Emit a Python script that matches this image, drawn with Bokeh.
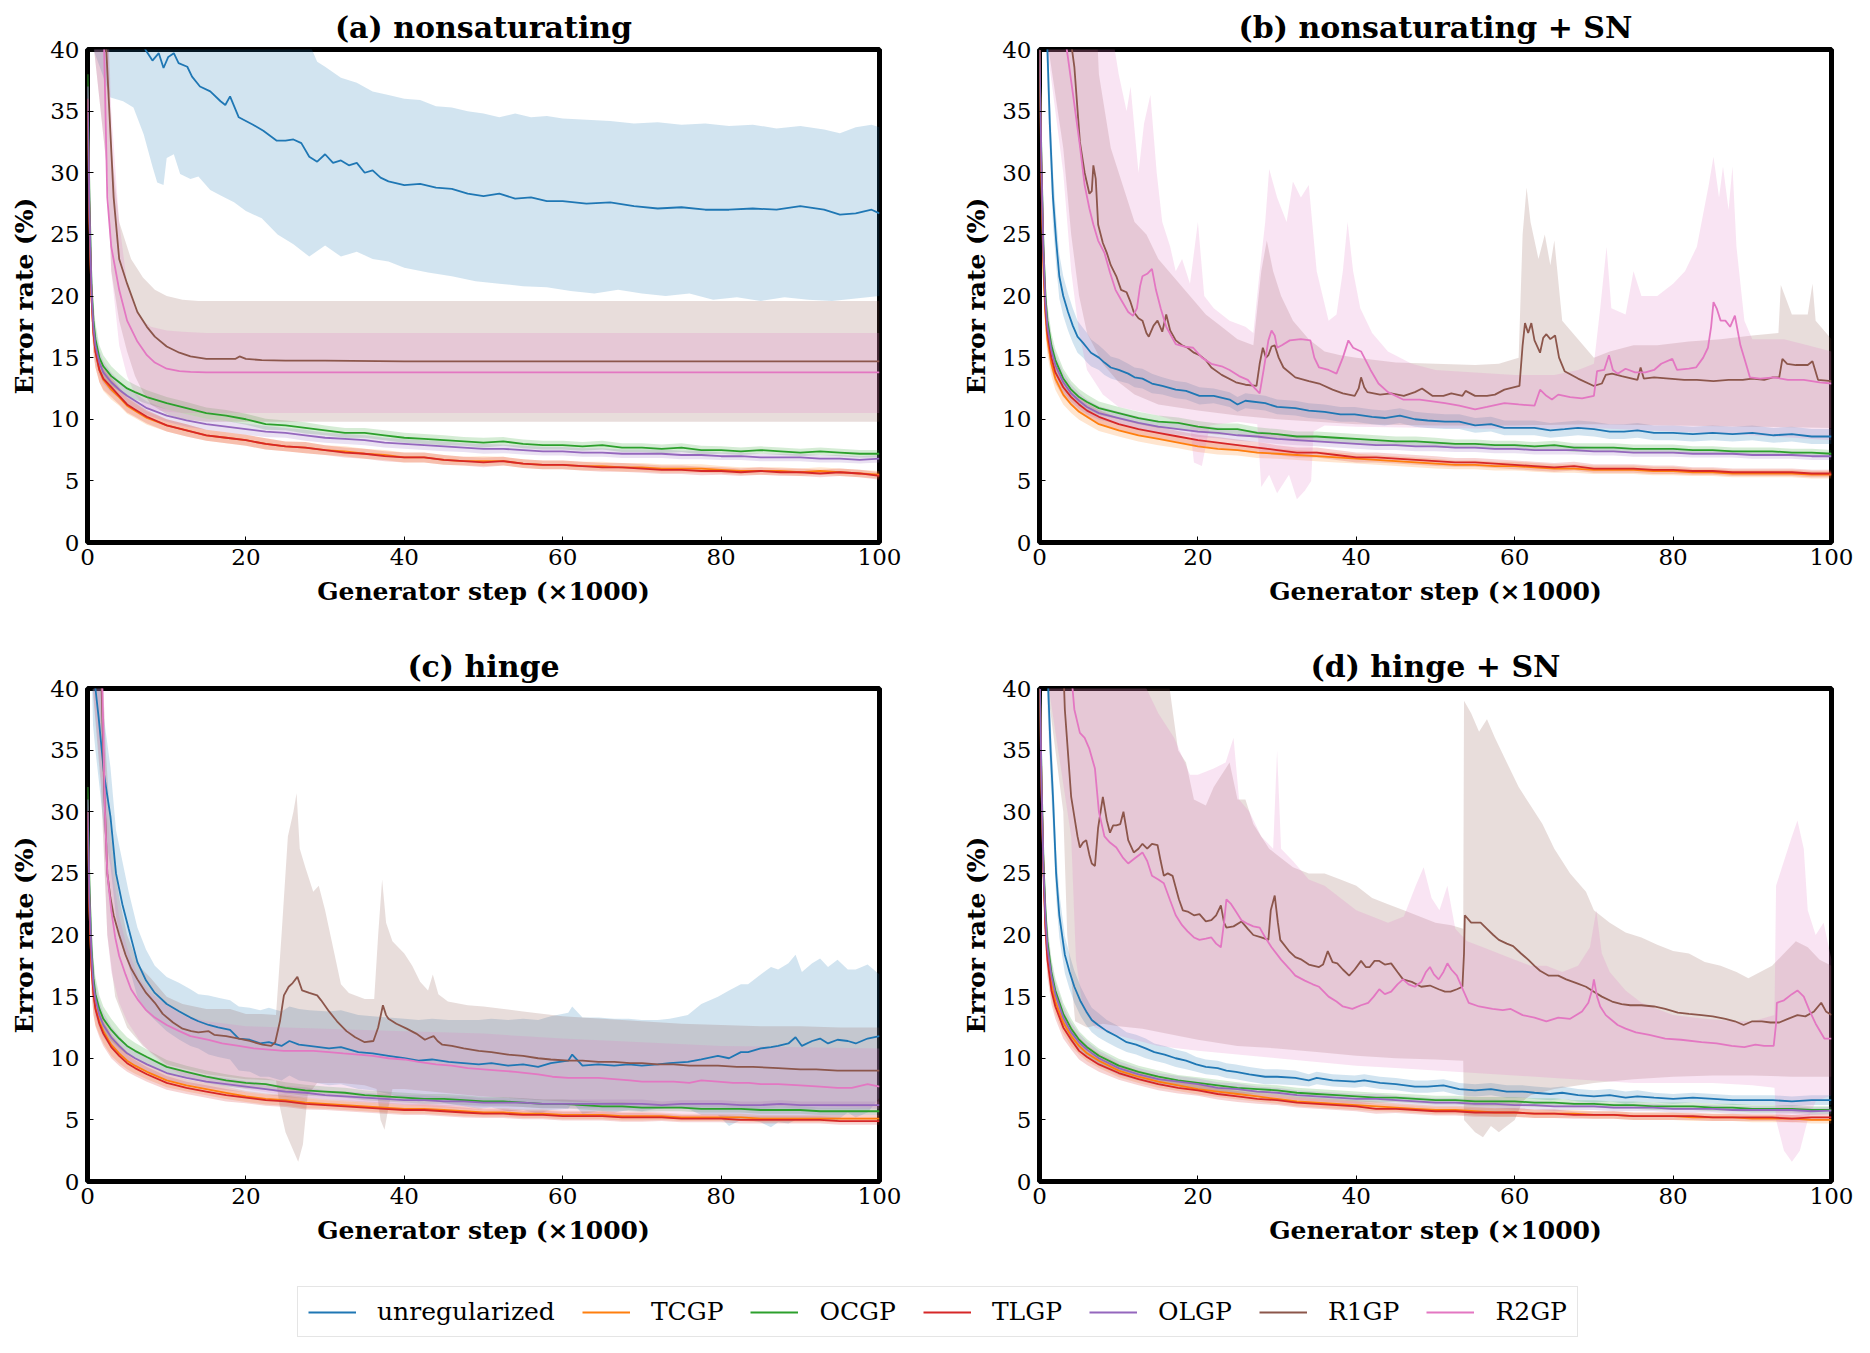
from bokeh.plotting import figure
from bokeh.layouts import column, row
from bokeh.models import Legend, LegendItem, FixedTicker, Range1d
from bokeh.embed import file_html
from bokeh.resources import INLINE

SERIF = "DejaVu Serif"
SERIES = ["unregularized", "TCGP", "OCGP", "TLGP", "OLGP", "R1GP", "R2GP"]
COLORS = {"unregularized": "#1f77b4", "TCGP": "#ff7f0e", "OCGP": "#2ca02c",
          "TLGP": "#d62728", "OLGP": "#9467bd", "R1GP": "#8c564b", "R2GP": "#e377c2"}

# generator steps (x1000) at which the gradient-penalty runs are sampled
GRID = [0, 0.25, 0.5, 0.75, 1, 1.5, 2, 3, 4, 5, 6, 7.5,
        10, 12.5, 15, 17.5, 20, 22.5, 25, 27.5, 30, 32.5,
        35, 37.5, 40, 42.5, 45, 47.5, 50, 52.5, 55, 57.5,
        60, 62.5, 65, 67.5, 70, 72.5, 75, 77.5, 80, 82.5,
        85, 87.5, 90, 92.5, 95, 97.5, 100]

# ---------------- (a) nonsaturating ----------------
a_unreg = [(0, 60), (4, 46), (6, 42), (7.3, 40), (8.2, 39.1), (9.0, 39.7), (9.6, 38.5), (10.2, 39.4),
           (10.9, 39.7), (11.5, 38.9), (12.6, 38.6), (13.2, 37.8), (14.2, 37.0), (15.5, 36.6), (16.8, 35.8),
           (17.4, 35.5), (18.0, 36.2), (19.1, 34.5), (20.9, 33.9), (22.2, 33.4), (23.9, 32.6), (25, 32.6),
           (26, 32.7), (27, 32.4), (28, 31.3), (29, 30.9), (30, 31.5), (31, 30.8), (32, 31.0), (33, 30.6),
           (34, 30.8), (35, 30.0), (36, 30.2), (37, 29.6), (38, 29.3), (40, 29.0), (42, 29.1), (44, 28.8),
           (46, 28.7), (48, 28.3), (50, 28.1), (52, 28.3), (54, 27.9), (56, 28.0), (58, 27.7), (60, 27.7),
           (63, 27.5), (66, 27.6), (69, 27.3), (72, 27.1), (75, 27.2), (78, 27.0), (81, 27.0), (84, 27.1),
           (87, 27.0), (90, 27.3), (93, 27.0), (95, 26.6), (97, 26.7), (99, 27.0), (100, 26.7)]
a_unreg_hi = [(0, 45), (28, 40.5), (29, 39), (30, 38.6), (32, 37.7), (34, 37.3), (36, 36.6), (38, 36.3),
              (40, 36.0), (42, 35.9), (44, 35.4), (46, 35.3), (48, 35.0), (50, 34.8), (52, 34.5), (54, 34.8),
              (56, 34.5), (58, 34.6), (60, 34.4), (63, 34.3), (66, 34.2), (69, 34.0), (72, 34.1), (75, 33.9),
              (78, 34.0), (81, 33.8), (84, 33.9), (87, 33.6), (90, 33.8), (93, 33.5), (95, 33.2), (97, 33.7),
              (99, 33.9), (100, 33.7)]
a_unreg_lo = [(0, 42), (0.75, 40), (1.6, 38.5), (2.9, 36.1), (4.5, 35.8), (5.8, 35.3), (7.1, 33.1), (8.2, 30.5),
              (8.8, 29.2), (9.6, 29.0), (10.0, 31.2), (10.9, 31.5), (11.7, 29.9), (13, 29.5), (14, 29.7),
              (15.5, 28.6), (17, 28.1), (18.5, 27.6), (20, 26.9), (22, 26.3), (24, 25.0), (26, 24.2), (28, 23.2),
              (30, 24.1), (32, 23.2), (34, 23.6), (36, 23.0), (38, 22.8), (40, 22.3), (43, 21.9), (46, 21.6),
              (49, 21.2), (52, 21.0), (55, 20.8), (58, 20.7), (61, 20.4), (64, 20.2), (67, 20.5), (70, 20.2),
              (73, 20.0), (76, 20.2), (79, 19.7), (82, 19.9), (85, 19.6), (88, 19.9), (91, 19.7), (94, 19.6),
              (97, 19.8), (100, 20.0)]
a_tcgp = [36, 26, 20, 17, 15.5, 14, 13.2, 12.4, 11.8, 11.1, 10.7, 10.1,
          9.5, 9.1, 8.7, 8.5, 8.3, 8.0, 7.8, 7.7, 7.5, 7.4,
          7.2, 7.1, 6.9, 6.9, 6.7, 6.6, 6.6, 6.6, 6.4, 6.3,
          6.3, 6.2, 6.2, 6.1, 6.1, 6.0, 6.0, 6.0, 5.9, 5.8,
          5.8, 5.8, 5.7, 5.8, 5.7, 5.6, 5.5]
a_ocgp = [38, 28, 21, 18, 16.5, 15, 14.3, 13.5, 13.0, 12.5, 12.2, 11.8,
          11.3, 10.9, 10.5, 10.3, 10.0, 9.6, 9.5, 9.3, 9.1, 8.9,
          8.9, 8.7, 8.5, 8.4, 8.3, 8.2, 8.1, 8.2, 8.0, 7.9,
          7.9, 7.8, 7.9, 7.7, 7.7, 7.6, 7.7, 7.5, 7.5, 7.4,
          7.5, 7.4, 7.3, 7.4, 7.3, 7.2, 7.2]
a_tlgp = [36, 26, 20, 17, 15.5, 14, 13.3, 12.6, 11.9, 11.2, 10.8, 10.2,
          9.5, 9.1, 8.7, 8.5, 8.3, 8.0, 7.8, 7.7, 7.5, 7.3,
          7.2, 7.0, 6.9, 6.9, 6.7, 6.6, 6.5, 6.6, 6.4, 6.3,
          6.3, 6.2, 6.1, 6.1, 6.0, 5.9, 5.9, 5.8, 5.8, 5.7,
          5.8, 5.7, 5.7, 5.6, 5.7, 5.6, 5.4]
a_olgp = [37, 27, 20.5, 17.5, 16, 14.6, 13.8, 13.0, 12.4, 11.9, 11.5, 10.9,
          10.3, 9.9, 9.6, 9.4, 9.2, 9.0, 8.9, 8.7, 8.5, 8.4,
          8.3, 8.1, 8.0, 7.9, 7.8, 7.7, 7.6, 7.6, 7.5, 7.4,
          7.4, 7.3, 7.3, 7.2, 7.2, 7.2, 7.1, 7.1, 7.0, 7.0,
          6.9, 6.9, 6.9, 6.8, 6.8, 6.7, 6.8]
a_spread = [3.0, 2.5, 2.0, 1.6, 1.3, 1.0, 0.9, 0.8, 0.7, 0.65, 0.6, 0.55,
            0.5, 0.5, 0.45, 0.45, 0.45, 0.45, 0.4, 0.45, 0.4, 0.4,
            0.4, 0.4, 0.4, 0.4, 0.4, 0.35, 0.4, 0.35, 0.35, 0.35,
            0.35, 0.35, 0.35, 0.35, 0.35, 0.35, 0.35, 0.35, 0.3, 0.3,
            0.3, 0.3, 0.3, 0.3, 0.3, 0.3, 0.3]
a_r1 = [(0, 70), (2.2, 70), (2.37, 40), (3.3, 28), (4.0, 23), (5.0, 21), (6.3, 18.7), (7.5, 17.5), (8.5, 16.7),
        (10, 15.9), (11.6, 15.4), (13, 15.1), (15, 14.9), (17, 14.9), (18.7, 14.9), (19.2, 15.1), (20, 14.9),
        (22, 14.8), (25, 14.75), (30, 14.75), (40, 14.7), (50, 14.7), (60, 14.7), (70, 14.7), (80, 14.7),
        (90, 14.7), (100, 14.7)]
a_r1_hi = [(0, 45), (2.5, 45), (3, 32), (4, 26), (5.5, 23), (7, 21.5), (8.5, 20.5), (10, 20.0), (12, 19.7),
           (14, 19.6), (20, 19.6), (40, 19.6), (60, 19.6), (80, 19.6), (100, 19.6)]
a_r1_lo = [(0, 45), (2.5, 30), (3, 22), (4, 18), (5, 15.5), (6, 13.5), (7, 12.2), (8, 11.2), (10, 10.4),
           (12, 10.0), (15, 9.8), (20, 9.8), (40, 9.8), (60, 9.8), (80, 9.8), (100, 9.8)]
a_r2 = [(0, 70), (1.95, 70), (2.1, 40), (2.5, 28), (3.0, 24), (4.0, 20.5), (5.0, 18), (6.3, 16.3), (7.5, 15.2),
        (8.5, 14.6), (10, 14.1), (11.6, 13.9), (13, 13.85), (15, 13.8), (20, 13.8), (40, 13.8), (60, 13.8),
        (80, 13.8), (100, 13.8)]
a_r2_hi = [(0, 45), (2.5, 45), (3, 35), (4, 26), (5, 21), (6, 19), (7, 18), (8, 17.5), (10, 17.2), (12, 17.1),
           (15, 17.0), (100, 17.0)]
a_r2_lo = [(0, 45), (2.5, 30), (3, 22), (4, 16), (5, 13.5), (6, 12), (7, 11.2), (8, 10.8), (10, 10.6),
           (12, 10.5), (100, 10.5)]

# ---------------- (b) nonsaturating + SN ----------------
b_unreg = [(0, 60, 3), (0.5, 50, 3), (1.0, 40, 3), (1.3, 34, 2.5), (1.7, 28, 2.2), (2.1, 24.5, 2), (2.5, 21.6, 1.8),
           (3.0, 20, 1.6), (3.6, 18.7, 1.5), (4.2, 17.6, 1.4), (4.8, 16.7, 1.3), (5.5, 16.2, 1.2), (6.0, 15.8, 1.2),
           (6.5, 15.4, 1.1), (7.5, 15.0, 1.0), (8.2, 14.6, 1.0), (9, 14.2, 0.9), (10, 14.0, 0.9), (11.2, 13.7, 0.8),
           (12, 13.4, 0.8), (13, 13.3, 0.8), (14.2, 12.9, 0.8), (15.5, 12.7, 0.7), (17.2, 12.4, 0.7),
           (18.5, 12.3, 0.7), (20.2, 11.9, 0.7), (22, 11.9, 0.6), (24, 11.6, 0.6), (25, 11.2, 0.6), (26, 11.5, 0.6),
           (28.5, 11.3, 0.6), (30, 11.0, 0.6), (32.3, 10.9, 0.6), (34, 10.7, 0.6), (36, 10.6, 0.6), (38, 10.4, 0.6),
           (39.8, 10.4, 0.6), (42, 10.2, 0.6), (43.6, 10.1, 0.6), (45.5, 10.3, 0.6), (47.4, 10.0, 0.6),
           (49, 9.9, 0.6), (51.2, 9.8, 0.6), (53, 9.8, 0.6), (55, 9.5, 0.6), (57, 9.6, 0.6), (58.7, 9.3, 0.6),
           (60.5, 9.3, 0.6), (62.5, 9.3, 0.6), (64.5, 9.1, 0.6), (66.3, 9.2, 0.6), (68, 9.3, 0.6), (70, 9.2, 0.6),
           (72, 9.0, 0.6), (73.8, 9.0, 0.6), (75.5, 9.1, 0.6), (77.6, 8.9, 0.6), (80, 8.9, 0.6), (82.5, 8.8, 0.6),
           (85, 8.9, 0.6), (87.5, 8.8, 0.6), (90, 8.9, 0.6), (92.7, 8.7, 0.6), (95, 8.8, 0.6), (97.5, 8.6, 0.6),
           (100, 8.6, 0.6)]
b_tcgp = [40, 29, 22, 18.5, 16.5, 14.5, 13.3, 12.0, 11.2, 10.6, 10.2, 9.6,
          9.1, 8.7, 8.4, 8.1, 7.8, 7.6, 7.5, 7.3, 7.2, 7.1,
          7.0, 6.9, 6.8, 6.7, 6.6, 6.5, 6.4, 6.3, 6.3, 6.2,
          6.2, 6.1, 6.0, 6.0, 5.9, 5.9, 5.9, 5.8, 5.8, 5.7,
          5.7, 5.6, 5.6, 5.6, 5.6, 5.5, 5.5]
b_ocgp = [40, 31, 24, 20, 18, 16, 14.8, 13.3, 12.4, 11.8, 11.4, 10.9,
          10.5, 10.1, 9.8, 9.7, 9.4, 9.2, 9.2, 8.9, 8.8, 8.6,
          8.6, 8.5, 8.4, 8.3, 8.2, 8.2, 8.1, 8.0, 8.0, 7.9,
          7.9, 7.8, 7.9, 7.7, 7.7, 7.7, 7.6, 7.6, 7.6, 7.5,
          7.5, 7.4, 7.4, 7.4, 7.3, 7.3, 7.2]
b_tlgp = [40, 30, 23, 19, 17, 15, 13.8, 12.6, 11.8, 11.2, 10.7, 10.2,
          9.6, 9.2, 8.9, 8.6, 8.3, 8.1, 7.9, 7.7, 7.5, 7.3,
          7.3, 7.1, 6.9, 6.9, 6.8, 6.7, 6.6, 6.5, 6.5, 6.4,
          6.3, 6.2, 6.1, 6.2, 6.0, 6.0, 6.0, 5.9, 5.9, 5.8,
          5.8, 5.7, 5.7, 5.7, 5.7, 5.6, 5.6]
b_olgp = [40, 30.5, 23.5, 19.5, 17.5, 15.6, 14.4, 13.0, 12.1, 11.5, 11.0, 10.5,
          10.1, 9.7, 9.4, 9.2, 9.0, 8.9, 8.7, 8.6, 8.4, 8.3,
          8.2, 8.1, 8.0, 7.9, 7.9, 7.8, 7.8, 7.7, 7.7, 7.6,
          7.6, 7.5, 7.5, 7.5, 7.4, 7.4, 7.3, 7.3, 7.3, 7.2,
          7.2, 7.2, 7.1, 7.1, 7.1, 7.0, 7.0]
b_spread = [3.0, 2.5, 2.0, 1.6, 1.3, 1.0, 0.9, 0.8, 0.7, 0.65, 0.6, 0.55,
            0.5, 0.5, 0.5, 0.45, 0.45, 0.45, 0.45, 0.45, 0.4, 0.4,
            0.4, 0.4, 0.4, 0.4, 0.4, 0.4, 0.4, 0.35, 0.35, 0.35,
            0.35, 0.35, 0.35, 0.35, 0.35, 0.35, 0.35, 0.35, 0.35, 0.3,
            0.3, 0.3, 0.3, 0.3, 0.3, 0.3, 0.3]
b_r1 = [(0, 60), (3.5, 45), (4.0, 40.5), (4.4, 38.6), (5.1, 32.5), (5.7, 30.0), (6.3, 28.3), (6.6, 28.5),
        (6.8, 30.6), (7.1, 29.5), (7.4, 25.8), (8.0, 24.3), (8.5, 23.5), (9.0, 22.5), (9.7, 21.6), (10.3, 20.5),
        (11.0, 20.3), (11.5, 19.5), (11.9, 18.7), (12.5, 18.2), (13.0, 18.0), (13.5, 17.0), (13.8, 16.7),
        (14.4, 17.6), (14.9, 18.0), (15.5, 17.1), (16.0, 18.5), (16.5, 17.2), (17.2, 16.4), (18.0, 16.0),
        (18.7, 15.8), (19.5, 15.4), (20.2, 15.2), (21, 14.8), (21.7, 14.2), (23, 13.6), (24.8, 13.0),
        (26, 12.8), (27.4, 12.7), (27.8, 14.5), (28.2, 15.8), (28.6, 15.0), (28.9, 15.2), (29.3, 15.9),
        (29.7, 16.0), (30.2, 15.0), (30.8, 14.2), (32.3, 13.4), (34, 13.1), (35.3, 12.9), (37, 12.4),
        (38.3, 12.1), (39.8, 11.9), (40.3, 12.5), (40.6, 13.4), (41.0, 12.6), (41.4, 12.2), (43, 12.0),
        (44.4, 12.1), (46, 11.9), (47.4, 12.2), (48.3, 12.5), (49.6, 11.9), (51, 11.9), (52, 12.1), (53.4, 11.9),
        (53.8, 12.3), (55, 11.9), (56.5, 11.9), (57.5, 12.0), (58.7, 12.4), (60.6, 12.7), (61.0, 16.0),
        (61.3, 17.8), (61.7, 17.0), (62.1, 17.8), (62.5, 16.4), (63.2, 15.4), (63.6, 16.6), (64.0, 16.9),
        (64.5, 16.5), (65.1, 16.8), (65.6, 15.0), (66.3, 13.9), (68, 13.3), (70, 12.7), (71, 12.9), (71.5, 13.6),
        (72.3, 13.7), (73.5, 13.5), (75.5, 13.2), (75.9, 14.2), (76.3, 13.3), (77.6, 13.4), (79.5, 13.3),
        (81.4, 13.2), (83, 13.2), (85.1, 13.1), (87, 13.2), (88.8, 13.2), (90, 13.3), (91.5, 13.2), (92.6, 13.4),
        (93.4, 13.4), (93.8, 14.9), (94.4, 14.5), (95.5, 14.4), (97, 14.4), (97.6, 14.7), (98.3, 13.2),
        (100, 13.1)]
b_r1_hi = [(0, 45), (7, 45), (7.5, 38), (9, 32), (10.5, 29), (12, 26), (13.5, 25), (15, 23), (17, 21.5), (19, 20),
           (21, 18.5), (23, 17.5), (25, 16.5), (27, 16), (28, 22), (28.7, 24.5), (29.5, 22), (30.5, 20), (32, 18),
           (34, 16.5), (36, 15.5), (38, 15.2), (40, 15), (45, 14.6), (50, 14.5), (55, 14.4), (58, 14.5),
           (60.5, 15), (61, 25), (61.5, 28.8), (62, 26), (63, 23), (63.8, 25), (64.5, 22.5), (65, 24.5), (66, 18),
           (68, 16.5), (70, 15), (72, 15.5), (75, 16), (78, 16), (82, 16.3), (86, 16.5), (90, 16.8), (93.3, 17),
           (93.6, 20.9), (95, 18.5), (97, 18.5), (97.6, 21), (98, 18), (100, 16.5)]
b_r1_lo = [(0, 45), (3, 32), (4, 25), (5, 20), (6, 17), (8, 14.5), (10, 13), (12, 12), (15, 11.2), (20, 10.7),
           (25, 10.3), (30, 10), (35, 9.8), (40, 9.6), (50, 9.5), (60, 9.5), (70, 9.6), (80, 9.5), (90, 9.4),
           (100, 9.3)]
b_r2 = [(0, 60), (3.0, 42), (3.6, 39.3), (4.2, 36.5), (5.1, 32.2), (5.7, 29.0), (6.3, 27.1), (6.8, 25.8),
        (7.4, 24.5), (8.2, 23.5), (8.9, 21.9), (9.6, 20.5), (10.3, 19.7), (11.2, 18.7), (11.8, 18.4), (12.3, 19.0),
        (12.7, 20.8), (13.0, 21.6), (13.6, 21.8), (14.2, 22.2), (14.7, 20.5), (15.3, 19.0), (16.0, 17.5),
        (17.2, 16.1), (18.3, 15.9), (19.4, 15.8), (20.5, 15.0), (21.7, 14.5), (23.0, 14.3), (24.0, 14.0),
        (25.2, 13.5), (26.3, 13.2), (27.2, 12.5), (27.8, 12.1), (28.3, 14.0), (28.9, 16.4), (29.3, 17.2),
        (29.7, 16.8), (30.0, 15.8), (30.6, 16.0), (31.6, 16.4), (33.0, 16.5), (34.2, 16.4), (34.7, 15.0),
        (35.3, 14.2), (36.5, 14.0), (37.5, 13.7), (38.3, 15.0), (39.0, 16.4), (39.6, 15.8), (40.6, 15.5),
        (41.8, 14.0), (42.8, 12.9), (44.0, 12.2), (45.9, 11.6), (48, 11.6), (51.2, 11.3), (53, 11.1), (55, 10.8),
        (56.5, 11.0), (58.7, 11.3), (60.5, 11.2), (62.5, 11.1), (63.2, 12.4), (64, 11.9), (64.7, 11.6),
        (65.5, 12.0), (67, 11.8), (68.5, 11.7), (70, 11.9), (70.4, 13.9), (71.3, 14.0), (71.9, 15.2),
        (72.4, 14.0), (73.0, 13.7), (74, 14.1), (75.2, 13.8), (76.5, 13.8), (77.6, 14.0), (78.5, 14.5),
        (79.9, 14.9), (80.5, 14.0), (82, 14.1), (82.9, 14.2), (83.8, 15.0), (84.4, 15.8), (84.8, 17.5),
        (85.1, 19.5), (85.5, 19.0), (86.0, 18.0), (86.6, 18.0), (87.2, 17.5), (87.8, 18.4), (88.5, 16.0),
        (89.2, 14.5), (89.7, 13.4), (91, 13.3), (92.7, 13.4), (94.5, 13.2), (96.5, 13.2), (98.5, 13.0),
        (100, 12.9)]
b_r2_hi = [(0, 45), (3, 45), (9, 42), (10, 38), (11, 35), (11.5, 37), (12.5, 30), (13.2, 34), (14, 36.3),
           (14.8, 30), (15.5, 26), (16.5, 24), (17.2, 22), (18, 23), (19, 21), (20, 26), (20.8, 20), (22, 19),
           (24, 18), (26, 17.5), (27, 17), (27.8, 22), (28.5, 26), (29, 30.3), (30, 28), (31.2, 26), (32, 29.3),
           (33, 28), (34, 29), (35, 22), (36.5, 18), (37.5, 18.5), (38.3, 22), (38.9, 26), (39.6, 22),
           (40.5, 19), (42, 17), (44, 15.5), (47, 14.5), (50, 14), (55, 13.8), (60, 13.6), (65, 13.6), (68, 14),
           (70, 14.5), (70.8, 19), (71.6, 24), (72.2, 19), (74, 18.5), (75, 22), (76, 20), (78, 20), (80, 21),
           (81.5, 22), (83, 24), (84.5, 29), (85.1, 31.3), (85.8, 28), (86.3, 30.5), (87, 27), (87.5, 30.5),
           (88, 24), (89, 18), (90, 16.5), (94, 16.5), (97, 16), (100, 15.5)]
b_r2_lo = [(0, 45), (3, 30), (4, 22), (5, 17), (6, 14), (8, 12), (10, 11), (15, 10.3), (19, 9.5), (19.5, 6.5),
           (20.5, 6.2), (21.5, 9.5), (25, 9.8), (27.5, 9.6), (28, 4.5), (29, 5.5), (30, 4), (31.5, 5.5),
           (32.5, 3.5), (33.5, 4.2), (34.3, 5), (34.6, 9), (36, 9.5), (40, 9.4), (50, 9.3), (60, 9.2), (70, 9.3),
           (80, 9.0), (90, 8.7), (100, 8.3)]

# ---------------- (c) hinge ----------------
c_unreg = [(0, 60, 5), (0.7, 42, 5), (1.0, 40, 5), (1.4, 37.7, 5), (2.1, 33, 4.5), (2.9, 29.6, 4), (3.6, 25, 3.5),
           (4.4, 22.5, 3.5), (5.2, 20.5, 3), (6.3, 17.8, 2.8), (7.4, 16.3, 2.5), (8.5, 15.3, 2.2), (10, 14.4, 2.2),
           (11.6, 13.8, 2.3), (13, 13.3, 2.3), (14, 13.0, 2.2), (15.3, 12.7, 2.4), (16.5, 12.5, 2.4),
           (18, 12.3, 2.4), (19.1, 11.6, 2.6), (20.5, 11.5, 2.6), (21.8, 11.2, 2.7), (22.9, 11.3, 2.8),
           (24.5, 11.0, 2.8), (25.5, 11.4, 2.8), (26.7, 11.1, 2.9), (28, 11.0, 2.9), (30.5, 10.8, 3),
           (32, 10.9, 3), (34.2, 10.5, 3), (36, 10.4, 3), (38, 10.2, 3.1), (40, 10.0, 3.2), (41.8, 9.8, 3.3),
           (43.5, 9.9, 3.3), (45.6, 9.7, 3.4), (47.5, 9.6, 3.5), (49.4, 9.5, 3.6), (51, 9.6, 3.6), (53.1, 9.4, 3.7),
           (55, 9.5, 3.7), (56.9, 9.3, 3.8), (58.5, 9.6, 3.8), (60.7, 9.8, 3.9), (61.2, 10.3, 3.9),
           (62.5, 9.4, 3.9), (64.5, 9.5, 3.8), (66.5, 9.4, 3.8), (68.3, 9.5, 3.7), (70, 9.4, 3.7), (72, 9.5, 3.6),
           (73.5, 9.6, 3.6), (75.8, 9.7, 3.8), (77.5, 9.9, 4.5), (79.6, 10.2, 4.8), (81, 10.0, 5.5),
           (82.5, 10.5, 5.5), (83.4, 10.5, 5.5), (85, 10.8, 6), (86.3, 10.9, 6.5), (87.2, 11.0, 6.2),
           (88.5, 11.2, 6.5), (89.4, 11.7, 6.7), (90.2, 11.0, 6), (91.5, 11.4, 6.3), (92.5, 11.6, 6.5),
           (93.5, 11.2, 6.2), (94.7, 11.5, 6.5), (96, 11.4, 5.8), (97, 11.2, 6), (98.5, 11.6, 6), (100, 11.8, 5)]
c_tcgp = [30, 22, 17.5, 15.3, 14.1, 13.0, 12.2, 11.1, 10.4, 9.8, 9.4, 8.9,
          8.2, 7.8, 7.5, 7.2, 6.9, 6.7, 6.6, 6.4, 6.3, 6.2,
          6.1, 6.0, 5.9, 5.9, 5.8, 5.7, 5.6, 5.6, 5.5, 5.5,
          5.4, 5.4, 5.4, 5.3, 5.3, 5.3, 5.2, 5.2, 5.2, 5.2,
          5.1, 5.1, 5.1, 5.1, 5.1, 5.1, 5.1]
c_ocgp = [32, 24, 19, 16.5, 15.2, 14.0, 13.2, 12.3, 11.6, 11.0, 10.6, 10.1,
          9.3, 8.9, 8.5, 8.2, 8.0, 7.9, 7.6, 7.4, 7.3, 7.2,
          7.0, 6.9, 6.8, 6.7, 6.7, 6.6, 6.5, 6.5, 6.4, 6.3,
          6.3, 6.2, 6.1, 6.1, 6.0, 6.0, 6.0, 5.9, 5.9, 5.9,
          5.8, 5.8, 5.8, 5.7, 5.7, 5.7, 5.7]
c_tlgp = [30, 22, 17.5, 15.2, 14, 12.8, 12.0, 10.9, 10.2, 9.6, 9.2, 8.7,
          8.0, 7.6, 7.3, 7.0, 6.8, 6.6, 6.5, 6.3, 6.2, 6.1,
          6.0, 5.9, 5.8, 5.8, 5.7, 5.6, 5.5, 5.5, 5.4, 5.4,
          5.3, 5.3, 5.3, 5.2, 5.2, 5.2, 5.1, 5.1, 5.1, 5.0,
          5.0, 5.0, 5.0, 5.0, 4.9, 4.9, 4.9]
c_olgp = [31, 23, 18.5, 16, 14.8, 13.5, 12.7, 11.7, 11.0, 10.4, 10.0, 9.5,
          8.8, 8.4, 8.1, 7.9, 7.7, 7.5, 7.3, 7.2, 7.0, 6.9,
          6.8, 6.7, 6.6, 6.6, 6.5, 6.5, 6.4, 6.4, 6.4, 6.3,
          6.3, 6.3, 6.3, 6.3, 6.3, 6.2, 6.3, 6.3, 6.3, 6.2,
          6.2, 6.3, 6.2, 6.2, 6.2, 6.2, 6.2]
c_spread = [3.0, 2.5, 2.0, 1.7, 1.4, 1.1, 1.0, 0.9, 0.8, 0.7, 0.65, 0.6,
            0.55, 0.5, 0.5, 0.5, 0.45, 0.45, 0.45, 0.45, 0.4, 0.4,
            0.4, 0.4, 0.4, 0.4, 0.4, 0.4, 0.35, 0.35, 0.35, 0.35,
            0.35, 0.35, 0.35, 0.35, 0.35, 0.3, 0.3, 0.3, 0.3, 0.3,
            0.3, 0.3, 0.3, 0.3, 0.3, 0.3, 0.3]
c_r1 = [(0, 70), (1.6, 70), (1.7, 42), (2.1, 32), (2.5, 25), (2.9, 23), (3.3, 21.6), (4, 20), (4.8, 18.4),
        (5.5, 17.3), (6.3, 16.4), (7.4, 15.3), (8.5, 14.5), (9.5, 13.6), (10.8, 12.9), (12, 12.4), (13.1, 12.2),
        (14, 12.1), (15.3, 12.2), (16, 11.9), (17.5, 11.8), (19.1, 11.6), (20.5, 11.4), (22.1, 11.1), (23.2, 11.0),
        (23.7, 11.3), (24.3, 13.0), (24.8, 15.1), (25.4, 15.8), (25.9, 16.1), (26.5, 16.6), (27.1, 15.5),
        (28, 15.3), (29, 15.1), (29.5, 14.7), (30.5, 13.8), (31.5, 13.0), (32.7, 12.2), (33.8, 11.7), (35, 11.3),
        (36.1, 11.4), (36.7, 12.5), (37.3, 14.3), (37.7, 13.5), (38, 13.2), (39, 12.8), (40.3, 12.4), (41.5, 12.0),
        (42.6, 11.5), (43.3, 11.7), (43.7, 11.8), (44.2, 11.4), (44.8, 11.1), (46, 11.0), (47.5, 10.8),
        (49.4, 10.6), (51, 10.5), (53.1, 10.3), (55, 10.2), (56.9, 10.0), (58.5, 9.9), (60.7, 9.8), (62.5, 9.8),
        (64.5, 9.7), (66.5, 9.7), (68.5, 9.6), (70, 9.6), (72, 9.5), (74, 9.5), (76, 9.4), (78, 9.4), (79.6, 9.4),
        (82, 9.3), (84, 9.3), (87.2, 9.2), (90, 9.1), (92, 9.1), (94.7, 9.0), (97, 9.0), (100, 9.0)]
c_r1_hi = [(0, 45), (1.7, 45), (2.3, 35), (3, 28), (4, 23), (5, 20), (6.5, 17.5), (8, 16.5), (10, 15), (12, 14.4),
           (15, 14), (18, 14), (20, 13.6), (22, 13.6), (23.8, 13.5), (24.5, 20), (25.3, 28), (26, 30), (26.4, 31.5),
           (26.8, 27), (27.5, 25.5), (28.5, 23.5), (29.2, 24), (30, 22), (31, 19), (32, 16), (33, 15.3), (35, 14.8),
           (36.2, 14.8), (36.7, 20), (37.2, 24.5), (37.7, 21), (38.5, 19.5), (40, 18.5), (41, 17.5), (42, 16.2),
           (43, 15.5), (43.6, 16.8), (44.3, 15.2), (45.5, 14.6), (48, 14.3), (50, 14.2), (55, 13.8), (60, 13.4),
           (65, 13.2), (70, 13.0), (75, 12.8), (80, 12.7), (85, 12.6), (90, 12.6), (95, 12.5), (100, 12.5)]
c_r1_lo = [(0, 45), (1.7, 32), (2.5, 20), (3.5, 15), (5, 12.5), (7, 11), (10, 9.5), (15, 8.7), (20, 8.3),
           (23.8, 8.2), (24.3, 6), (25, 4), (26, 2.5), (26.6, 1.6), (27.2, 3), (27.8, 7), (29, 8), (32, 8),
           (35, 7.8), (36.5, 7.5), (37, 5), (37.5, 4.2), (38, 6), (38.5, 7.5), (40, 7.5), (45, 7.2), (50, 6.9),
           (60, 6.5), (70, 6.3), (80, 6.2), (90, 6.1), (100, 6.0)]
c_r2 = [(0, 70), (1.7, 70), (1.8, 42), (2.2, 30), (2.5, 25), (3, 22), (3.5, 19.8), (4, 18.3), (4.8, 16.8),
        (5.5, 15.6), (6.3, 14.8), (7.4, 13.9), (8.5, 13.3), (10, 12.7), (11.6, 12.2), (13, 11.8), (15.3, 11.5),
        (17, 11.2), (19.1, 11.0), (21, 10.8), (22.9, 10.7), (24.8, 10.6), (26.7, 10.6), (28.5, 10.6),
        (30.5, 10.5), (32.3, 10.4), (34.2, 10.3), (36, 10.2), (38, 10.0), (40, 9.9), (41.8, 9.7), (44, 9.5),
        (46, 9.4), (48, 9.2), (50, 9.1), (52, 9.0), (54, 8.9), (56.9, 8.7), (58.7, 8.5), (60.7, 8.4), (62.5, 8.4),
        (64.5, 8.4), (66.5, 8.3), (68.5, 8.2), (70, 8.1), (72, 8.1), (74, 8.1), (76, 8.0), (77.5, 8.2),
        (79.6, 8.1), (81.5, 8.0), (83.5, 8.0), (85, 7.9), (87.2, 7.9), (90, 7.8), (92.5, 7.7), (94.7, 7.6),
        (96.5, 7.6), (98.5, 7.9), (100, 7.7)]
c_r2_hi = [(0, 45), (1.8, 45), (2.5, 30), (3, 26), (4, 21.5), (5, 19), (6.5, 16.5), (8, 15.3), (10, 14.3),
           (12, 13.5), (15, 13.0), (20, 12.6), (30, 12.4), (40, 12.2), (50, 12.0), (60, 11.6), (70, 11.3),
           (80, 11.0), (90, 10.9), (100, 10.8)]
c_r2_lo = [(0, 45), (1.8, 32), (2.5, 20), (3, 17), (4, 14.5), (5, 13), (6.5, 11.5), (8, 10.4), (10, 9.3),
           (12, 8.6), (15, 8), (20, 7.5), (25, 7), (30, 6.7), (40, 6.2), (50, 5.8), (60, 5.5), (70, 5.3),
           (80, 5.3), (90, 5.2), (100, 5.2)]

# ---------------- (d) hinge + SN ----------------
d_unreg = [(0, 60, 3), (0.8, 45, 3), (1.1, 40, 3), (1.4, 35, 2.5), (1.7, 31.2, 2.5), (2.1, 25, 2), (2.5, 21.6, 1.8),
           (3.2, 18.4, 1.5), (3.8, 17, 1.4), (4.4, 15.8, 1.3), (5.2, 14.6, 1.2), (5.9, 13.8, 1.1), (6.6, 13.1, 1.0),
           (7.4, 12.7, 1.0), (8.5, 12.2, 0.9), (9.7, 11.8, 0.9), (11, 11.3, 0.8), (12.2, 11.1, 0.8),
           (13.4, 10.8, 0.8), (14.5, 10.5, 0.7), (15.8, 10.3, 0.7), (17.2, 10.0, 0.7), (18.5, 9.8, 0.7),
           (19.8, 9.5, 0.6), (21, 9.3, 0.6), (22.5, 9.2, 0.6), (23.6, 9.0, 0.6), (24.8, 8.9, 0.6), (26.5, 8.7, 0.6),
           (28.5, 8.5, 0.6), (30, 8.5, 0.6), (32.3, 8.4, 0.6), (34, 8.2, 0.5), (35, 8.4, 0.5), (37, 8.2, 0.5),
           (39.8, 8.1, 0.5), (41, 8.2, 0.5), (43, 8.0, 0.5), (45, 7.9, 0.5), (47.4, 7.7, 0.5), (49, 7.7, 0.5),
           (51, 7.8, 0.5), (53, 7.5, 0.5), (55, 7.4, 0.5), (57, 7.5, 0.5), (59, 7.3, 0.5), (61, 7.3, 0.5),
           (62.5, 7.2, 0.5), (64.5, 7.1, 0.5), (66, 7.2, 0.5), (68, 7.0, 0.5), (70, 6.9, 0.5), (72, 7.0, 0.5),
           (74, 6.8, 0.5), (75.5, 6.9, 0.5), (77.6, 6.8, 0.4), (80, 6.7, 0.4), (82.5, 6.8, 0.4), (85.1, 6.7, 0.4),
           (87.5, 6.6, 0.4), (90, 6.6, 0.4), (92.6, 6.6, 0.4), (95, 6.5, 0.4), (97.5, 6.6, 0.4), (100, 6.6, 0.4)]
d_tcgp = [42, 32, 25.5, 21, 18.5, 16, 14.6, 12.9, 11.8, 11.0, 10.4, 9.8,
          9.0, 8.5, 8.1, 7.8, 7.5, 7.3, 7.1, 6.9, 6.7, 6.5,
          6.4, 6.3, 6.2, 6.1, 6.0, 5.9, 5.8, 5.8, 5.7, 5.6,
          5.6, 5.5, 5.5, 5.5, 5.4, 5.4, 5.3, 5.3, 5.3, 5.2,
          5.2, 5.2, 5.1, 5.1, 5.1, 5.0, 5.0]
d_ocgp = [43, 33, 26, 22, 19.5, 17, 15.5, 13.6, 12.4, 11.5, 10.9, 10.2,
          9.4, 8.9, 8.5, 8.2, 8.0, 7.8, 7.6, 7.5, 7.4, 7.2,
          7.1, 7.0, 6.9, 6.8, 6.8, 6.7, 6.6, 6.6, 6.5, 6.5,
          6.5, 6.4, 6.4, 6.3, 6.3, 6.2, 6.2, 6.1, 6.1, 6.1,
          6.0, 6.0, 5.9, 5.9, 5.9, 5.8, 5.8]
d_tlgp = [42, 32, 25, 20.5, 18, 15.5, 14.2, 12.5, 11.5, 10.6, 10.1, 9.5,
          8.8, 8.3, 7.9, 7.6, 7.4, 7.1, 6.9, 6.7, 6.6, 6.4,
          6.3, 6.2, 6.1, 5.9, 5.9, 5.8, 5.7, 5.7, 5.6, 5.6,
          5.6, 5.5, 5.5, 5.4, 5.4, 5.4, 5.3, 5.3, 5.3, 5.3,
          5.2, 5.2, 5.2, 5.2, 5.1, 5.2, 5.2]
d_olgp = [43, 32.5, 25.5, 21.5, 19, 16.7, 15.2, 13.3, 12.1, 11.3, 10.7, 10.0,
          9.2, 8.7, 8.3, 8.1, 7.9, 7.6, 7.5, 7.3, 7.2, 7.0,
          6.9, 6.8, 6.7, 6.7, 6.6, 6.5, 6.4, 6.4, 6.3, 6.3,
          6.2, 6.2, 6.1, 6.1, 6.1, 6.0, 6.0, 6.0, 5.9, 5.9,
          5.9, 5.8, 5.8, 5.8, 5.8, 5.7, 5.75]
d_spread = [3.0, 2.5, 2.0, 1.7, 1.4, 1.1, 1.0, 0.9, 0.8, 0.7, 0.65, 0.6,
            0.55, 0.5, 0.5, 0.45, 0.45, 0.45, 0.45, 0.4, 0.4, 0.4,
            0.4, 0.4, 0.4, 0.4, 0.35, 0.35, 0.35, 0.35, 0.35, 0.35,
            0.35, 0.35, 0.35, 0.3, 0.3, 0.3, 0.3, 0.3, 0.3, 0.3,
            0.3, 0.3, 0.3, 0.3, 0.3, 0.3, 0.3]
d_r1 = [(0, 60), (3.0, 42), (3.2, 38.3), (4.0, 31.2), (4.8, 28.0), (5.1, 27.1), (5.5, 27.5), (5.9, 27.7),
        (6.3, 26.5), (6.6, 25.8), (7.0, 25.6), (7.4, 28.7), (8.0, 31.2), (8.5, 29.3), (8.9, 28.3), (9.3, 28.9),
        (9.7, 28.9), (10.2, 29.0), (10.6, 30.0), (11.2, 27.7), (11.9, 26.7), (12.5, 27.0), (13.0, 27.4),
        (13.6, 27.0), (14.2, 27.4), (14.9, 27.3), (15.3, 26.0), (15.7, 24.8), (16.2, 25.0), (16.8, 24.8),
        (17.6, 22.9), (18.1, 22.0), (18.7, 21.9), (19.5, 21.6), (20.2, 21.7), (21.0, 21.1), (21.7, 21.2),
        (22.3, 21.6), (22.9, 22.4), (23.3, 21.0), (23.6, 20.6), (24.5, 20.7), (25.5, 21.1), (26.3, 20.5),
        (27.0, 20.0), (28.0, 19.8), (28.9, 19.6), (29.2, 22.0), (29.7, 23.2), (30.1, 21.0), (30.4, 19.6),
        (31.5, 18.7), (32.3, 18.2), (33.1, 18.0), (34.0, 17.6), (35.3, 17.4), (35.8, 17.6), (36.4, 18.7),
        (37.0, 17.8), (37.6, 17.7), (38.3, 17.2), (39.1, 16.7), (39.8, 17.2), (40.6, 17.9), (41.2, 17.4),
        (41.7, 17.4), (42.3, 17.9), (42.9, 17.9), (43.6, 17.6), (44.4, 17.7), (45.2, 17.0), (45.9, 16.4),
        (47, 16.2), (48.2, 15.8), (49.3, 15.9), (50.4, 15.6), (51.2, 15.4), (51.9, 15.4), (52.7, 15.6),
        (53.4, 15.8), (53.6, 18.5), (53.7, 21.6), (54.5, 21.0), (55.7, 21.0), (56.5, 20.5), (57.3, 20.0),
        (58.0, 19.6), (59, 19.3), (59.8, 19.1), (60.8, 18.5), (61.7, 18.0), (62.5, 17.5), (63.2, 17.1),
        (64.3, 16.7), (65.5, 16.7), (66.5, 16.4), (67.8, 16.1), (69, 15.8), (70, 15.4), (71, 15.0), (72.3, 14.6),
        (73.5, 14.4), (74.6, 14.3), (76, 14.3), (77.6, 14.2), (79, 14.0), (80.6, 13.7), (82, 13.6), (83.6, 13.5),
        (85, 13.4), (86.6, 13.2), (87.8, 13.0), (88.9, 12.7), (90, 13.0), (91.2, 13.0), (92.3, 12.9),
        (93.4, 12.9), (94.5, 13.2), (95.7, 13.5), (96.7, 13.4), (97.8, 13.8), (98.7, 14.5), (99.3, 13.8),
        (100, 13.5)]
d_r1_hi = [(0, 45), (15, 45), (16, 42), (17.5, 35), (18.5, 34), (19.5, 31), (21, 30.5), (22, 32), (23, 33),
           (24, 34), (25, 31), (26, 31), (27, 29), (28, 28), (29, 27), (30, 26.5), (32, 25.5), (34, 25), (36, 25),
           (38, 24.5), (40, 24), (42, 23), (44, 22.5), (46, 22), (48, 21.5), (50, 21), (52, 20.8), (53.5, 20.5),
           (53.6, 39), (54.5, 38), (55.5, 36.5), (56.5, 37.5), (57.5, 36), (59, 34), (60.5, 32), (62, 30.5),
           (63.5, 29), (65, 27), (67, 25), (69, 23.5), (70, 22), (72, 21), (74, 20.2), (76, 19.8), (78, 19.2),
           (80, 18.7), (82, 18.5), (84, 17.8), (86, 17.5), (88, 17), (89.5, 16.5), (91, 17), (92.5, 17.5),
           (94, 18.5), (95.5, 19.5), (97, 19), (98.5, 18), (100, 17.5)]
d_r1_lo = [(0, 45), (3, 30), (3.5, 20), (4.5, 13), (6, 12.5), (8, 12.8), (10, 12.6), (13, 12.4), (16, 12),
           (20, 11.5), (25, 11), (30, 10.8), (35, 10.5), (40, 10.2), (45, 10), (50, 9.9), (53.5, 9.8), (53.6, 5),
           (55, 4), (56, 3.6), (57, 4.5), (58, 4), (59, 4.5), (60, 5), (61, 6.5), (62, 7), (65, 7.5), (70, 8),
           (75, 8.3), (80, 8.5), (85, 8.6), (90, 8.6), (95, 8.5), (100, 8.5)]
d_r2 = [(0, 60), (3.9, 42), (4.4, 38.3), (5.1, 36.4), (5.7, 36.0), (6.3, 35.1), (7.0, 33.5), (7.5, 30.0),
        (8.2, 28.0), (8.9, 27.5), (9.7, 27.1), (10.5, 26.3), (11.2, 25.8), (12.0, 26.2), (13.0, 26.7),
        (13.6, 26.0), (14.2, 24.8), (15.0, 24.5), (15.7, 24.2), (16.5, 22.8), (17.2, 21.6), (18.0, 20.8),
        (18.7, 20.3), (19.5, 19.8), (20.2, 19.6), (21.0, 19.7), (21.7, 19.8), (22.3, 19.3), (22.9, 19.0),
        (23.3, 21.0), (23.6, 22.9), (24.2, 22.5), (24.8, 21.9), (25.5, 21.2), (26.3, 20.9), (27.0, 20.7),
        (27.8, 20.6), (28.5, 19.8), (29.3, 19.0), (30.5, 18.0), (31.5, 17.3), (32.3, 16.7), (33.5, 16.3),
        (34.5, 16.0), (35.3, 15.8), (36.5, 15.0), (37.5, 14.6), (38.3, 14.2), (39.5, 14.0), (40.6, 14.3),
        (41.5, 14.5), (42.2, 15.0), (42.9, 15.6), (43.6, 15.2), (44.4, 15.4), (45.2, 16.0), (45.9, 16.4),
        (46.6, 16.0), (47.4, 15.8), (48.2, 16.2), (48.8, 17.0), (49.3, 17.4), (49.8, 16.8), (50.4, 16.4),
        (51.0, 17.0), (51.5, 17.7), (52.0, 17.2), (52.7, 16.7), (53.5, 15.5), (54.2, 14.5), (55.5, 14.2),
        (57.2, 14.0), (58.5, 13.9), (59.5, 14.0), (61, 13.5), (62.5, 13.3), (64, 13.0), (65.5, 13.3), (67, 13.2),
        (68.5, 13.8), (69.3, 14.5), (69.8, 15.6), (70.0, 16.4), (70.4, 15.0), (70.8, 14.2), (71.5, 13.5),
        (73, 12.7), (74, 12.4), (75.3, 12.1), (77, 11.9), (79, 11.6), (81, 11.5), (83.6, 11.3), (85.5, 11.2),
        (87.4, 11.0), (89, 10.9), (90.4, 11.1), (91.5, 11.0), (92.7, 11.0), (93.0, 12.8), (93.1, 14.5),
        (94, 14.7), (95, 15.2), (95.7, 15.5), (96.5, 15.0), (97.2, 13.9), (98, 12.8), (99.1, 11.6), (100, 11.6)]
d_r2_hi = [(0, 45), (10, 45), (12, 41), (13.5, 40), (15, 38), (17, 36), (19, 33), (20, 33), (22, 33.5), (23.5, 34),
           (24.5, 36), (25.2, 31), (26.5, 30), (28, 28), (29.5, 27), (30, 35), (30.5, 27), (32, 26), (34, 24.5),
           (36, 24), (38, 23), (40, 22), (42, 21.5), (44, 21), (46, 21.5), (47.5, 24), (48.5, 25.5), (49.5, 23),
           (50.5, 22), (51.5, 24), (52.5, 20.5), (54, 19.5), (56, 19), (58, 18.5), (60, 18), (62, 17.5),
           (64, 17.5), (66, 17), (68, 17.5), (69.5, 19), (70.3, 22), (71, 18.5), (72, 17), (74, 15.5), (76, 14.5),
           (78, 14), (80, 13.5), (84, 13.2), (88, 13), (90, 13), (92.8, 13.5), (93, 24), (94, 26), (95, 28),
           (95.7, 29.3), (96.5, 27), (97, 22), (98, 20), (99, 21), (100, 18)]
d_r2_lo = [(0, 45), (4, 28), (4.6, 18), (5.5, 14), (7, 12.5), (9, 12), (12, 11.5), (15, 11), (20, 10.6),
           (25, 10.3), (30, 10), (35, 9.7), (40, 9.4), (45, 9.2), (50, 9), (55, 8.8), (60, 8.6), (65, 8.4),
           (70, 8.2), (75, 8.0), (80, 8.0), (85, 8.0), (90, 7.8), (92.8, 7.6), (93, 5), (94, 2.5), (95, 1.6),
           (96, 2.5), (97, 5), (98, 6.5), (100, 7)]

TITLES = ["(a) nonsaturating", "(b) nonsaturating + SN", "(c) hinge", "(d) hinge + SN"]
X_TICKS = [0, 20, 40, 60, 80, 100]
Y_TICKS = [0, 5, 10, 15, 20, 25, 30, 35, 40]


def unzip(pairs):
    return [q[0] for q in pairs], [q[1] for q in pairs]


def band_patch(p, hi, lo, color):
    xh, yh = unzip(hi)
    xl, yl = unzip(lo)
    p.patch(xh + xl[::-1], yh + yl[::-1], fill_color=color, fill_alpha=0.2, line_color=None)


def make_panel(title, left, right, unreg, unreg_band, lows, spread, r1, r1_hi, r1_lo, r2, r2_hi, r2_lo):
    p = figure(frame_width=792, frame_height=493,
               min_border_left=left, min_border_right=right, min_border_top=49, min_border_bottom=97,
               x_range=Range1d(0, 100), y_range=Range1d(0, 40),
               output_backend="svg", toolbar_location=None, title=title)
    p.title.text_font = SERIF
    p.title.text_font_style = "bold"
    p.title.text_font_size = "30px"
    p.title.text_color = "black"
    p.title.align = "center"
    p.title.standoff = 9

    # shaded spread bands first, then the mean curves on top
    if unreg_band is None:
        xs = [t[0] for t in unreg]
        p.varea(x=xs, y1=[t[1] - t[2] for t in unreg], y2=[t[1] + t[2] for t in unreg],
                fill_color=COLORS["unregularized"], fill_alpha=0.2)
    else:
        band_patch(p, unreg_band[0], unreg_band[1], COLORS["unregularized"])
    for name, vals in zip(["TCGP", "OCGP", "TLGP", "OLGP"], lows):
        xs = [g for g, _ in zip(GRID, vals)]
        p.varea(x=xs, y1=[v - s for v, s in zip(vals, spread)], y2=[v + s for v, s in zip(vals, spread)],
                fill_color=COLORS[name], fill_alpha=0.2)
    band_patch(p, r1_hi, r1_lo, COLORS["R1GP"])
    band_patch(p, r2_hi, r2_lo, COLORS["R2GP"])

    ux = [t[0] for t in unreg]
    uy = [t[1] for t in unreg]
    p.line(ux, uy, line_color=COLORS["unregularized"], line_width=1.8)
    for name, vals in zip(["TCGP", "OCGP", "TLGP", "OLGP"], lows):
        p.line([g for g, _ in zip(GRID, vals)], vals, line_color=COLORS[name], line_width=1.8)
    x1, y1 = unzip(r1)
    p.line(x1, y1, line_color=COLORS["R1GP"], line_width=1.8)
    x2, y2 = unzip(r2)
    p.line(x2, y2, line_color=COLORS["R2GP"], line_width=1.8)

    p.grid.visible = False
    p.outline_line_color = "black"
    p.outline_line_width = 5
    p.outline_line_alpha = 1.0
    p.xaxis.ticker = FixedTicker(ticks=X_TICKS)
    p.yaxis.ticker = FixedTicker(ticks=Y_TICKS)
    p.axis.axis_line_color = None
    p.axis.major_tick_in = 6
    p.axis.major_tick_out = 0
    p.axis.major_tick_line_color = "black"
    p.axis.major_tick_line_width = 1
    p.axis.minor_tick_line_color = None
    p.axis.major_label_text_font = SERIF
    p.axis.major_label_text_font_size = "23px"
    p.axis.major_label_text_color = "black"
    p.xaxis.major_label_standoff = 6
    p.yaxis.major_label_standoff = 8
    p.xaxis.axis_label = "Generator step (×1000)"
    p.yaxis.axis_label = "Error rate (%)"
    p.axis.axis_label_text_font = SERIF
    p.axis.axis_label_text_font_style = "bold"
    p.axis.axis_label_text_font_size = "25px"
    p.axis.axis_label_text_color = "black"
    p.xaxis.axis_label_standoff = 9
    p.yaxis.axis_label_standoff = 8
    return p


pa = make_panel(TITLES[0], 87, 40, [(x, y, 0) for x, y in a_unreg], (a_unreg_hi, a_unreg_lo),
                [a_tcgp, a_ocgp, a_tlgp, a_olgp], a_spread, a_r1, a_r1_hi, a_r1_lo, a_r2, a_r2_hi, a_r2_lo)
pb = make_panel(TITLES[1], 120, 39, b_unreg, None,
                [b_tcgp, b_ocgp, b_tlgp, b_olgp], b_spread, b_r1, b_r1_hi, b_r1_lo, b_r2, b_r2_hi, b_r2_lo)
pc = make_panel(TITLES[2], 87, 40, c_unreg, None,
                [c_tcgp, c_ocgp, c_tlgp, c_olgp], c_spread, c_r1, c_r1_hi, c_r1_lo, c_r2, c_r2_hi, c_r2_lo)
pd = make_panel(TITLES[3], 120, 39, d_unreg, None,
                [d_tcgp, d_ocgp, d_tlgp, d_olgp], d_spread, d_r1, d_r1_hi, d_r1_lo, d_r2, d_r2_hi, d_r2_lo)

# shared legend strip under the four panels; each entry is a one-point (NaN) line
# so the legend has a glyph to draw without anything appearing in the strip itself
lp = figure(width=1870, height=75, toolbar_location=None, output_backend="svg", min_border=0,
            x_range=Range1d(0, 1), y_range=Range1d(0, 1), x_axis_location=None, y_axis_location=None)
lp.grid.visible = False
lp.outline_line_color = None
items = []
for name in SERIES:
    r = lp.line([float("nan")], [float("nan")], line_color=COLORS[name], line_width=2.2)
    items.append(LegendItem(label=name, renderers=[r]))
leg = Legend(items=items, orientation="horizontal", location=(297, 16),
             label_text_font=SERIF, label_text_font_size="25px", label_text_color="black",
             glyph_width=48, glyph_height=24, label_standoff=21, spacing=27, padding=10, margin=0,
             border_line_color="#cccccc", border_line_width=1.5, background_fill_color="white",
             background_fill_alpha=1.0)
lp.add_layout(leg)

layout = column(row(pa, pb), row(pc, pd), lp)
with open("out.html", "w") as f:
    f.write(file_html(layout, INLINE))
